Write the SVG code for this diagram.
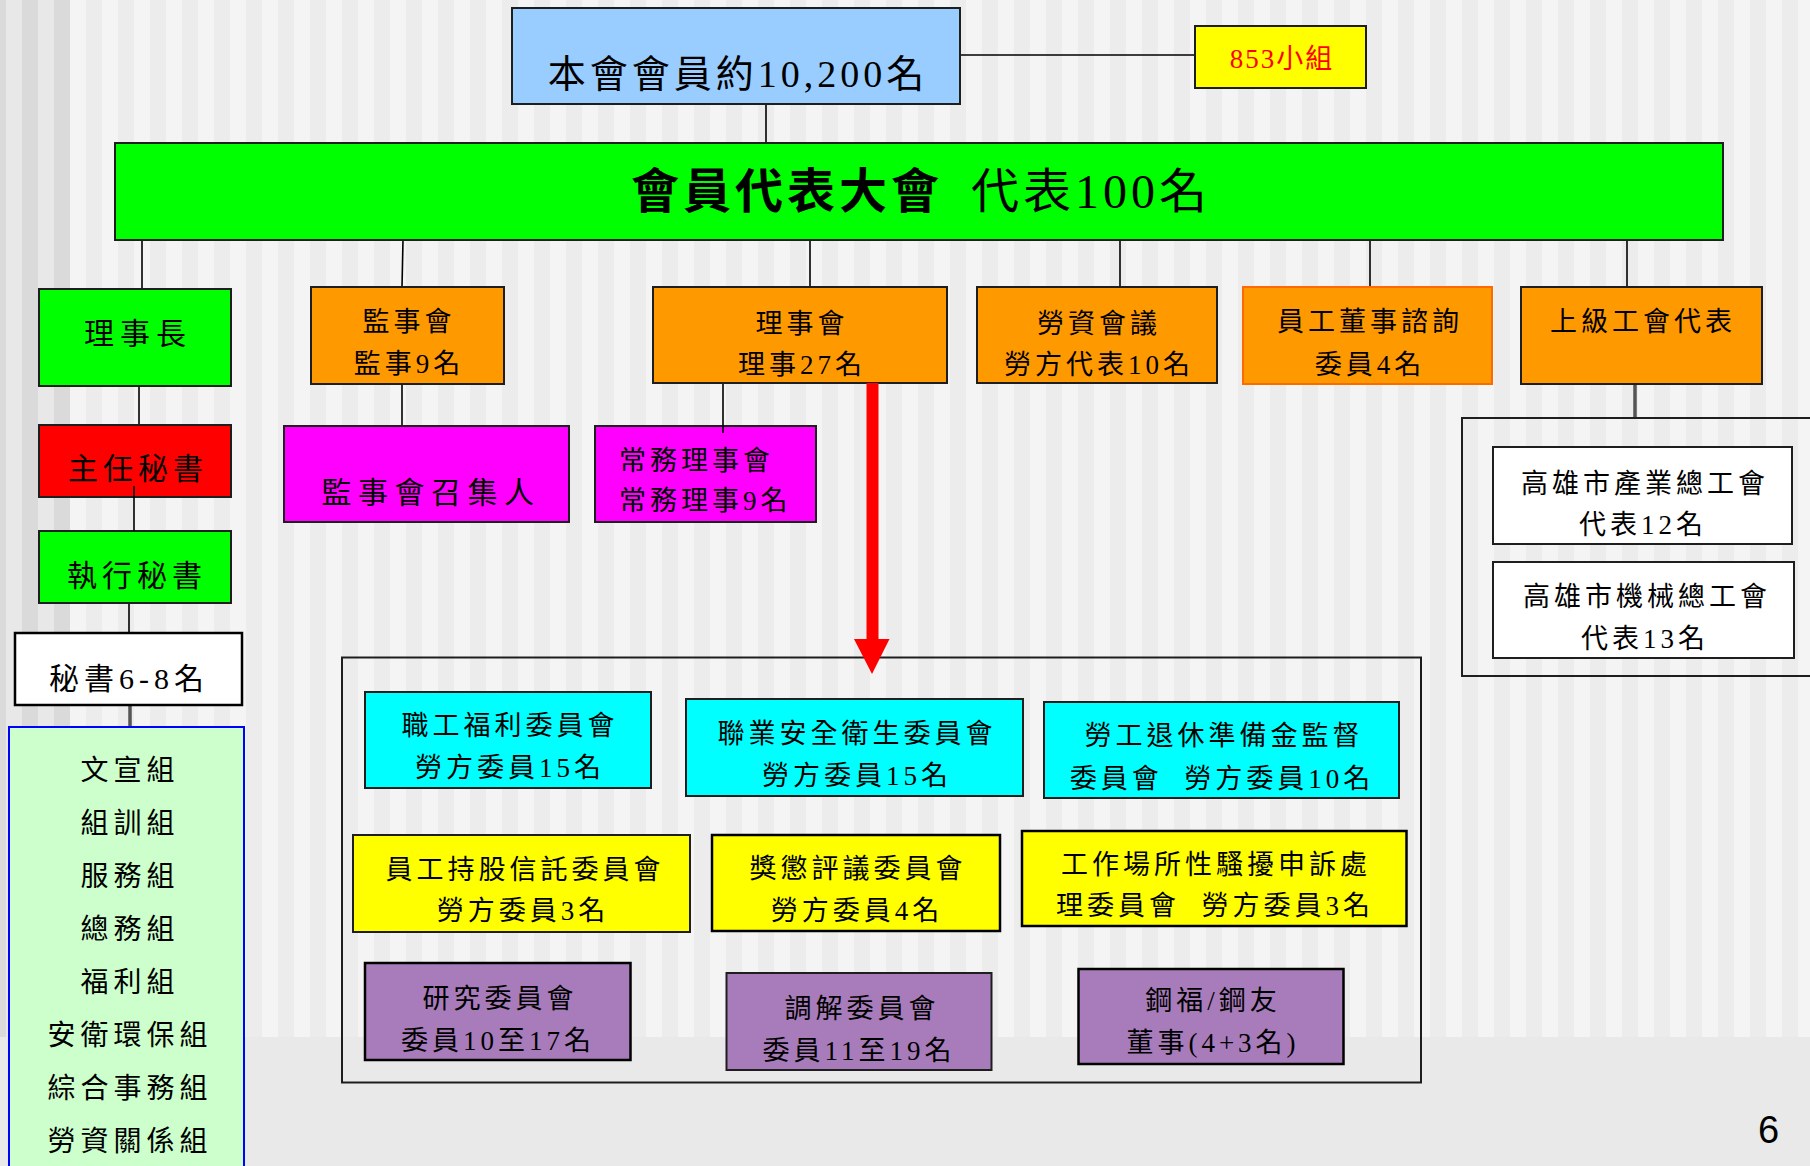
<svg xmlns="http://www.w3.org/2000/svg" width="1810" height="1166" viewBox="0 0 1810 1166">
<style>
.t{font-family:"Liberation Serif","Noto Sans CJK TC","Noto Sans CJK SC",serif;fill:#000;text-anchor:middle}
.s27{font-size:27px;letter-spacing:4px}
.s30{font-size:30px;letter-spacing:5px}
.b{stroke:#1e1e1e;stroke-width:2}
.bk{stroke:#000;stroke-width:2.5}
.ln{stroke:#000;stroke-width:1.6;fill:none}
.gl{stroke:#555;stroke-width:3.5;fill:none}
.blue{fill:#99ccff}.green{fill:#00ff00}.orange{fill:#ff9900}.red{fill:#ff0000}
.mag{fill:#ff00ff}.cyan{fill:#00ffff}.yel{fill:#ffff00}.pur{fill:#a87cba}.wht{fill:#ffffff}
</style>
<defs>
<pattern id="stripes" x="70" y="0" width="32" height="1166" patternUnits="userSpaceOnUse">
<rect width="16" height="1166" fill="#f4f4f4"/>
<rect x="16" width="16" height="1166" fill="#ececec"/>
</pattern>
</defs>
<g id="background">
<rect width="1810" height="1166" fill="url(#stripes)"/>
<rect x="0" y="0" width="6" height="1037" fill="#dadada"/>
<rect x="6" y="0" width="16" height="1037" fill="#e8e8e8"/>
<rect x="22" y="0" width="16" height="1037" fill="#dadada"/>
<rect x="38" y="0" width="16" height="1037" fill="#e8e8e8"/>
<rect x="54" y="0" width="16" height="1037" fill="#dadada"/>
<rect x="0" y="1037" width="1810" height="129" fill="#e9e9e9"/>
</g>
<g id="connectors">
<path class="ln" d="M960 55H1195"/>
<path class="ln" d="M766 104V143"/>
<path class="ln" d="M142 240V289"/>
<path class="ln" d="M403 240L402 287"/>
<path class="ln" d="M810 240V287"/>
<path class="ln" d="M1120 240V287"/>
<path class="ln" d="M1370 240V287"/>
<path class="ln" d="M1627 240V287"/>
<path class="ln" d="M139 386V425"/>
<path class="ln" d="M129 603V633"/>
<path class="gl" d="M130 705V727"/>
<path class="ln" d="M402 384V426"/>
<path class="gl" d="M1635 384V418"/>
</g>
<g id="container-committees"><rect x="342" y="657.5" width="1079" height="425" fill="none" class="b"/></g>
<g id="container-upper"><rect x="1462" y="418" width="360" height="258" fill="none" class="b"/></g>
<g id="n-members"><rect x="512" y="8" width="448" height="96" class="blue b"/>
<text class="t" x="738" y="87" style="font-size:38px;letter-spacing:4px">本會會員約10,200名</text></g>
<g id="n-853"><rect x="1195" y="26" width="171" height="62" class="yel b"/>
<text class="t" x="1282" y="68" style="font-size:27px;letter-spacing:2px;fill:#ff0000">853小組</text></g>
<g id="n-congress"><rect x="115" y="143" width="1608" height="97" class="green b"/>
<text class="t" x="921" y="208" style="font-size:48px;letter-spacing:4px"><tspan font-weight="700">會員代表大會</tspan><tspan dx="12"> 代表100名</tspan></text></g>
<g id="n-chairman"><rect x="39" y="289" width="192" height="97" class="green b"/>
<text class="t" x="138" y="344" style="font-size:30px;letter-spacing:6px">理事長</text></g>
<g id="n-supervisors"><rect x="311" y="287" width="193" height="97" class="orange b"/>
<text class="t s27" x="409" y="331">監事會</text><text class="t s27" x="409" y="373">監事9名</text></g>
<g id="n-directors"><rect x="653" y="287" width="294" height="96" class="orange b"/>
<text class="t s27" x="802" y="333">理事會</text><text class="t s27" x="802" y="374">理事27名</text></g>
<g id="n-labor-mgmt"><rect x="977" y="287" width="240" height="96" class="orange b"/>
<text class="t s27" x="1099" y="333">勞資會議</text><text class="t s27" x="1099" y="374">勞方代表10名</text></g>
<g id="n-employee-director"><rect x="1243" y="287" width="249" height="97" fill="#ff9900" stroke="#ff6a00" stroke-width="2"/>
<text class="t s27" x="1370" y="331">員工董事諮詢</text><text class="t s27" x="1370" y="374">委員4名</text></g>
<g id="n-upper-union"><rect x="1521" y="287" width="241" height="97" class="orange b"/>
<text class="t s27" x="1643" y="331">上級工會代表</text></g>
<g id="n-chief-secretary"><rect x="39" y="425" width="192" height="72" class="red b"/>
<text class="t s30" x="138" y="479">主任秘書</text></g>
<g id="n-exec-secretary"><rect x="39" y="531" width="192" height="72" class="green b"/>
<text class="t s30" x="137" y="586">執行秘書</text></g>
<path class="ln" d="M134 486V531"/>
<g id="n-secretaries"><rect x="15" y="633" width="227" height="72" class="wht bk"/>
<text class="t s30" x="129" y="689">秘書6-8名</text></g>
<g id="n-departments"><rect x="9" y="727" width="235" height="460" fill="#ccffcc" stroke="#0000ff" stroke-width="2"/>
<text class="t" style="font-size:28px;letter-spacing:5px" x="130" y="780">文宣組</text>
<text class="t" style="font-size:28px;letter-spacing:5px" x="130" y="833">組訓組</text>
<text class="t" style="font-size:28px;letter-spacing:5px" x="130" y="886">服務組</text>
<text class="t" style="font-size:28px;letter-spacing:5px" x="130" y="939">總務組</text>
<text class="t" style="font-size:28px;letter-spacing:5px" x="130" y="992">福利組</text>
<text class="t" style="font-size:28px;letter-spacing:5px" x="130" y="1045">安衛環保組</text>
<text class="t" style="font-size:28px;letter-spacing:5px" x="130" y="1098">綜合事務組</text>
<text class="t" style="font-size:28px;letter-spacing:5px" x="130" y="1151">勞資關係組</text></g>
<g id="n-convener"><rect x="284" y="426" width="285" height="96" class="mag b"/>
<text class="t" style="font-size:30px;letter-spacing:6.5px" x="431" y="503">監事會召集人</text></g>
<g id="n-standing"><rect x="595" y="426" width="221" height="96" class="mag b"/>
<text class="t s27" style="text-anchor:start" x="619" y="470">常務理事會</text><text class="t s27" style="text-anchor:start" x="619" y="510">常務理事9名</text></g>
<path class="ln" d="M723 384V433"/>
<g id="arrow"><rect x="866.5" y="383" width="12" height="257" fill="#ff0000"/><polygon points="854,639 889.5,639 872,674" fill="#ff0000"/></g>
<g id="n-welfare"><rect x="365" y="692" width="286" height="96" class="cyan b"/>
<text class="t s27" x="510" y="735">職工福利委員會</text><text class="t s27" x="510" y="777">勞方委員15名</text></g>
<g id="n-safety"><rect x="686" y="699" width="337" height="97" class="cyan b"/>
<text class="t s27" x="857" y="743">聯業安全衛生委員會</text><text class="t s27" x="857" y="785">勞方委員15名</text></g>
<g id="n-pension"><rect x="1044" y="702" width="355" height="96" class="cyan b"/>
<text class="t s27" x="1224" y="745">勞工退休準備金監督</text><text class="t s27" x="1222" y="788">委員會&#160;&#160;勞方委員10名</text></g>
<g id="n-trust"><rect x="353" y="835" width="337" height="97" class="yel b"/>
<text class="t s27" x="525" y="879">員工持股信託委員會</text><text class="t s27" x="523" y="920">勞方委員3名</text></g>
<g id="n-reward"><rect x="712" y="835" width="288" height="96" class="yel bk"/>
<text class="t s27" x="858" y="878">獎懲評議委員會</text><text class="t s27" x="857" y="920">勞方委員4名</text></g>
<g id="n-harassment"><rect x="1022" y="831" width="384.5" height="95" class="yel bk"/>
<text class="t s27" x="1216" y="874">工作場所性騷擾申訴處</text><text class="t s27" x="1215" y="915">理委員會&#160;&#160;勞方委員3名</text></g>
<g id="n-research"><rect x="365" y="963" width="265.5" height="97" class="pur bk"/>
<text class="t s27" x="500" y="1008">研究委員會</text><text class="t s27" x="498" y="1050">委員10至17名</text></g>
<g id="n-mediation"><rect x="726.5" y="973" width="265" height="97" class="pur b"/>
<text class="t s27" x="862" y="1018">調解委員會</text><text class="t s27" x="859" y="1060">委員11至19名</text></g>
<g id="n-steel"><rect x="1078.5" y="969" width="265" height="95" class="pur bk"/>
<text class="t s27" x="1213" y="1010">鋼福/鋼友</text><text class="t s27" x="1213" y="1052">董事(4+3名)</text></g>
<g id="n-industry"><rect x="1493" y="447" width="299" height="97" class="wht b"/>
<text class="t s27" x="1645" y="493">高雄市產業總工會</text><text class="t s27" x="1643" y="534">代表12名</text></g>
<g id="n-machinery"><rect x="1493" y="562" width="301" height="96" class="wht b"/>
<text class="t s27" x="1647" y="606">高雄市機械總工會</text><text class="t s27" x="1645" y="648">代表13名</text></g>
<text x="1758" y="1143" style="font-family:'Liberation Sans',Arial,sans-serif;font-size:38px;fill:#000">6</text>
</svg>
